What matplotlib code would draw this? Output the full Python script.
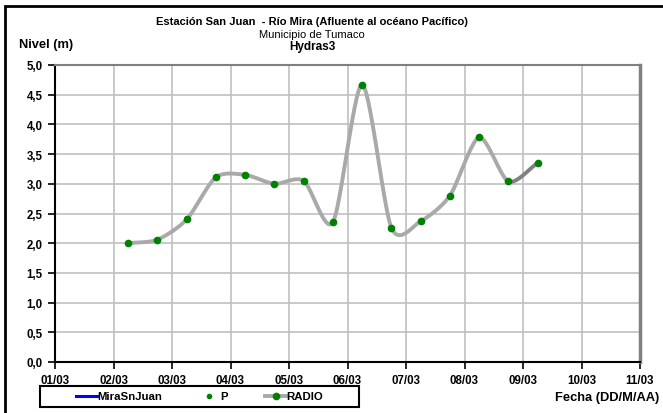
import numpy as np
import matplotlib.pyplot as plt
from matplotlib.lines import Line2D

plt.rcParams['font.family'] = ['Liberation Sans', 'DejaVu Sans']

# days counted from 01/03, readings every 12 h
dias = [1.25, 1.75, 2.25, 2.75, 3.25, 3.75, 4.25, 4.75, 5.25, 5.75, 6.25, 6.75, 7.25, 7.75, 8.25]
nivel = [2.00, 2.06, 2.40, 3.11, 3.15, 3.00, 3.05, 2.35, 4.67, 2.26, 2.37, 2.80, 3.78, 3.04, 3.35]
etiquetas_x = ['01/03', '02/03', '03/03', '04/03', '05/03', '06/03',
               '07/03', '08/03', '09/03', '10/03', '11/03']
etiquetas_y = ['0,0', '0,5', '1,0', '1,5', '2,0', '2,5', '3,0', '3,5', '4,0', '4,5', '5,0']
series = ['MiraSnJuan', 'P', 'RADIO']


def suavizar(x, y, n=30, k=0.8):
    # Catmull-Rom type curve (a bit less tension), like a spreadsheet smoothed line
    x = np.asarray(x, float); y = np.asarray(y, float)
    px = np.concatenate([[2*x[0]-x[1]], x, [2*x[-1]-x[-2]]])
    py = np.concatenate([[2*y[0]-y[1]], y, [2*y[-1]-y[-2]]])
    xs, ys = [], []
    t = np.linspace(0, 1, n)
    for i in range(1, len(px)-2):
        for p, out in ((px, xs), (py, ys)):
            b0 = p[i]
            b3 = p[i+1]
            b1 = b0 + k*(p[i+1]-p[i-1])/6
            b2 = b3 - k*(p[i+2]-p[i])/6
            out.append((1-t)**3*b0 + 3*(1-t)**2*t*b1 + 3*(1-t)*t**2*b2 + t**3*b3)
    return xs, ys


fig = plt.figure(figsize=(6.63, 4.14), dpi=100)
ax = fig.add_axes([55/663, 51/414, 585/663, 297/414])

xs, ys = suavizar(dias, nivel)
for j, (sx, sy) in enumerate(zip(xs, ys)):
    col = '#808080' if j == len(xs)-1 else '#a9a9a9'
    ax.plot(sx, sy, color=col, lw=2.8, solid_capstyle='round', zorder=3)
ax.plot(dias, nivel, 'o', color='#008000', ms=4.5, zorder=4)

ax.set_xlim(0, 10)
ax.set_ylim(0, 5)
ax.set_xticks(range(11))
ax.set_xticklabels(etiquetas_x, fontsize=8.3, fontweight='bold')
ax.set_yticks(np.arange(0, 5.01, 0.5))
ax.set_yticklabels(etiquetas_y, fontsize=8.3, fontweight='bold')
ax.grid(True, color='#c0c0c0', lw=1.2)
ax.set_axisbelow(True)
ax.tick_params(direction='out', length=5, width=1.2, color='black', pad=4)
ax.spines['left'].set_linewidth(1.5)
ax.spines['bottom'].set_linewidth(1.5)
ax.spines['top'].set_color('#808080')
ax.spines['top'].set_linewidth(1.5)
ax.spines['right'].set_color('#808080')
ax.spines['right'].set_linewidth(2.5)

fig.text(312/663, 1-22/414, 'Estación San Juan  - Río Mira (Afluente al océano Pacífico)',
         ha='center', va='center', fontsize=8, fontweight='bold')
fig.text(312/663, 1-35/414, 'Municipio de Tumaco', ha='center', va='center', fontsize=8)
fig.text(312/663, 1-47/414, 'Hydras3', ha='center', va='center', fontsize=8.5, fontweight='bold')
fig.text(19/663, 1-45/414, 'Nivel (m)', ha='left', va='center', fontsize=9.3, fontweight='bold')
fig.text(659/663, 1-398/414, 'Fecha (DD/M/AA)', ha='right', va='center', fontsize=9.3, fontweight='bold')

# legend box drawn by hand to match the spreadsheet layout
ly = 1-397/414
fig.add_artist(plt.Rectangle((40/663, 1-408/414), 319/663, 21/414, transform=fig.transFigure,
                             fill=False, ec='black', lw=1.5))
fig.add_artist(Line2D([76/663, 97/663], [ly, ly], color='blue', lw=2.2, transform=fig.transFigure))
fig.add_artist(Line2D([209/663], [ly], color='#008000', marker='o', ms=3, transform=fig.transFigure))
fig.add_artist(Line2D([265/663, 286/663], [ly, ly], color='#a9a9a9', lw=2.8, transform=fig.transFigure))
fig.add_artist(Line2D([276/663], [ly], color='#008000', marker='o', ms=4.5, transform=fig.transFigure))
for xt, nombre in zip([97, 220, 286], series):
    fig.text(xt/663, ly, nombre, ha='left', va='center', fontsize=8.2, fontweight='bold')

# outer frame of the chart
fig.add_artist(plt.Rectangle((5/663, -0.02), 1.0, 1-7/414+0.02, transform=fig.transFigure,
                             fill=False, ec='black', lw=2))

fig.savefig('out.png', dpi=100)
